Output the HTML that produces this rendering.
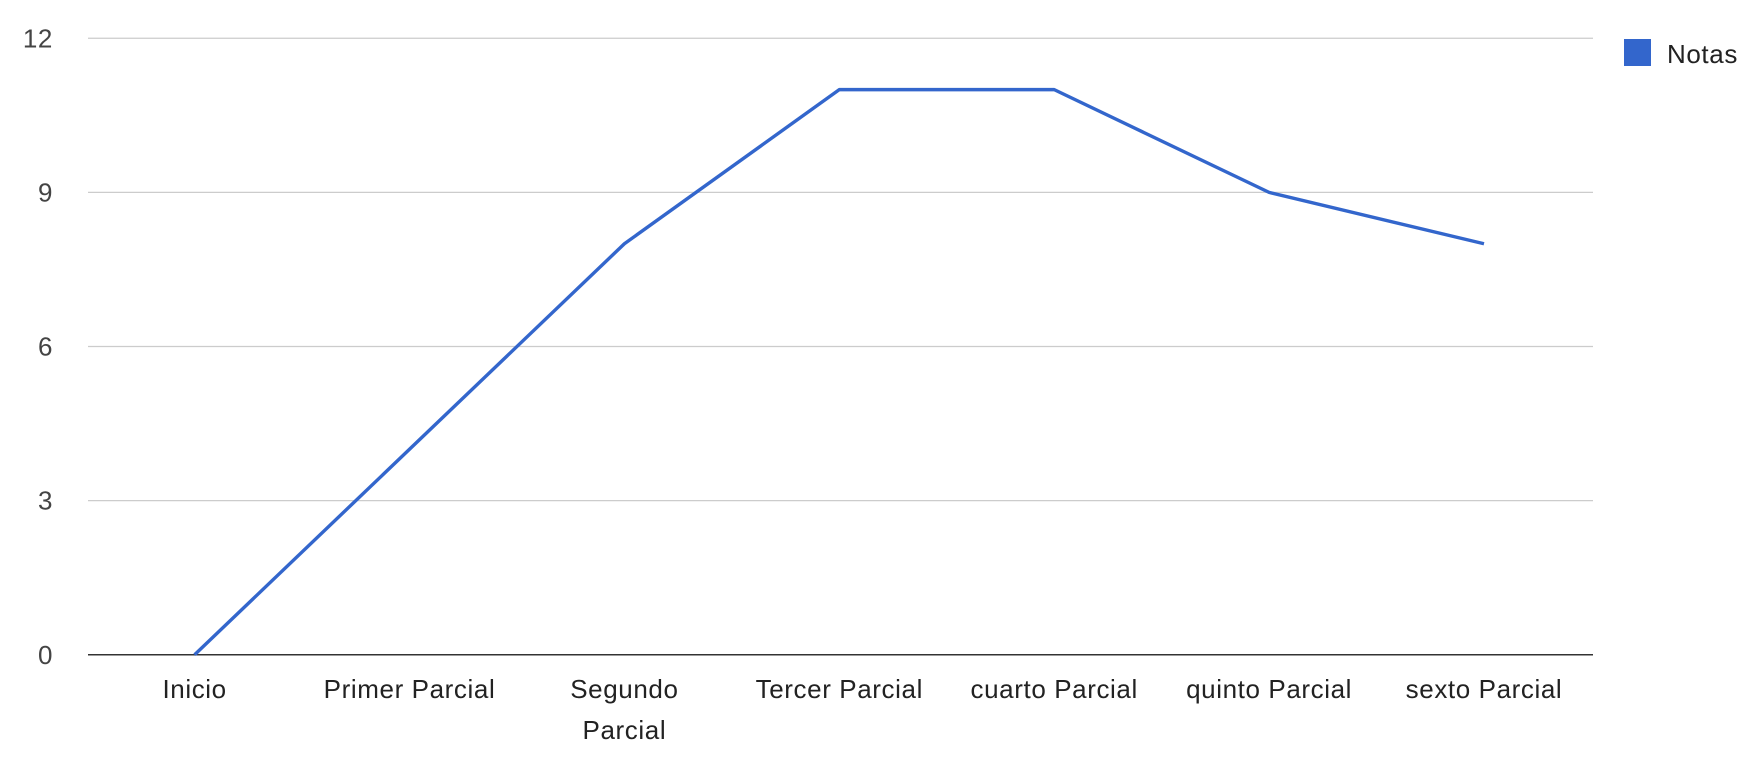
<!DOCTYPE html>
<html><head><meta charset="utf-8"><style>
html,body{margin:0;padding:0;background:#fff;}
svg{display:block;font-family:"Liberation Sans",Arial,sans-serif;}
text{letter-spacing:0.6px;}
</style></head><body>
<svg id="chart" width="1764" height="784">
<g id="grid"></g>
<g id="yt"></g>
<g id="xt"></g>
<g id="series"></g>
<g>
<rect x="1624" y="39" width="27" height="27" fill="#3366cc"></rect>
<text x="1667" y="63" font-size="26" fill="#222">Notas</text>
</g>
</svg>
<script>
const categories = [["Inicio"],["Primer Parcial"],["Segundo","Parcial"],["Tercer Parcial"],["cuarto Parcial"],["quinto Parcial"],["sexto Parcial"]];
const values = [0,4,8,11,11,9,8];
const yTicks = [0,3,6,9,12];
const NS="http://www.w3.org/2000/svg";
const pL=88,pR=1593,pT=38.25,pB=654.75,ymax=12;
const x0=194.6,step=214.9;
function xs(i){return x0+i*step;}
function ys(v){return pB-(v/ymax)*(pB-pT);}
function mk(tag,attrs,parent){const e=document.createElementNS(NS,tag);for(const k in attrs)e.setAttribute(k,attrs[k]);parent.appendChild(e);return e;}
const grid=document.getElementById('grid'),yt=document.getElementById('yt'),xt=document.getElementById('xt'),ser=document.getElementById('series');
yTicks.forEach(t=>{
  const l=mk('line',{x1:pL,x2:pR,y1:ys(t),y2:ys(t),stroke:t===0?'#333':'#ccc','stroke-width':t===0?1.5:1.2},grid);
  
  
  const tx=mk('text',{x:53,y:ys(t)+9,'text-anchor':'end','font-size':26,fill:'#444'},yt);
  tx.textContent=t;
  
  
});
categories.forEach((c,i)=>{
  const tx=mk('text',{x:xs(i),y:698,'text-anchor':'middle','font-size':26,fill:'#222'},xt);
  c.forEach((ln,j)=>{const ts=mk('tspan',{x:xs(i),dy:j?41:0},tx);ts.textContent=ln;});
  
  
});
const pts=values.map((v,i)=>xs(i)+','+ys(v)).join(' ');
const pl=mk('polyline',{points:pts,fill:'none',stroke:'#3366cc','stroke-width':3.4,'stroke-linejoin':'round'},ser);


</script>
</body></html>
